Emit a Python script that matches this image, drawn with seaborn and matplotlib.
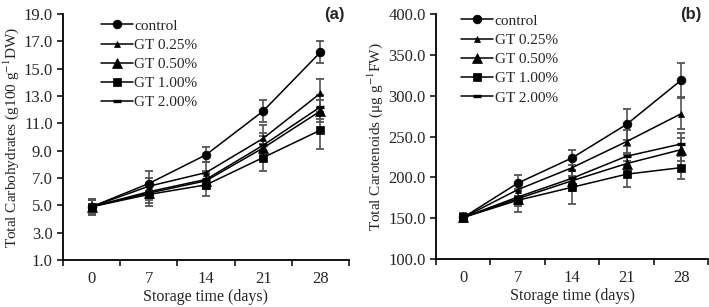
import numpy as np
import pandas as pd
import matplotlib
matplotlib.use("Agg")
import matplotlib.pyplot as plt
from matplotlib.ticker import FormatStrFormatter, FixedLocator
import seaborn as sns

# ------------------------------
# Data
# ------------------------------
days = ["0", "7", "14", "21", "28"]
treatments = ["control", "GT 0.25%", "GT 0.50%", "GT 1.00%", "GT 2.00%"]

# (a) Total carbohydrates
carb_control = [4.9, 6.6, 8.7, 11.9, 16.2]
carb_gt025 = [4.9, 6.4, 7.4, 9.9, 13.2]
carb_gt050 = [4.9, 5.9, 6.8, 9.2, 11.9]
carb_gt100 = [4.9, 5.8, 6.5, 8.5, 10.5]
carb_gt200 = [4.9, 6.0, 6.9, 9.4, 12.2]
carb_err_control = [0.6, 0.9, 0.55, 0.8, 0.8]
carb_err_gt025 = [0.5, 0.6, 0.8, 1.0, 1.05]
carb_err_gt050 = [0.5, 0.7, 0.6, 0.9, 0.8]
carb_err_gt100 = [0.6, 0.85, 0.8, 1.0, 1.35]
carb_err_gt200 = [0.5, 0.6, 0.6, 0.9, 0.9]

# (b) Total carotenoids
caro_control = [151, 193, 224, 265, 319]
caro_gt025 = [151, 185, 212, 244, 278]
caro_gt050 = [151, 174, 196, 217, 234]
caro_gt100 = [151, 172, 188, 204, 212]
caro_gt200 = [151, 176, 199, 226, 241]
caro_err_control = [5, 10, 9, 19, 21]
caro_err_gt025 = [5, 8, 10, 14, 19]
caro_err_gt050 = [5, 9, 12, 12, 14]
caro_err_gt100 = [5, 14, 20, 16, 14]
caro_err_gt200 = [5, 8, 10, 12, 14]

markers = ["o", "^", "^", "s", "_"]
msizes = [6.3, 4.2, 7, 6, 6]

carb = [carb_control, carb_gt025, carb_gt050, carb_gt100, carb_gt200]
carb_err = [carb_err_control, carb_err_gt025, carb_err_gt050, carb_err_gt100, carb_err_gt200]
caro = [caro_control, caro_gt025, caro_gt050, caro_gt100, caro_gt200]
caro_err = [caro_err_control, caro_err_gt025, caro_err_gt050, caro_err_gt100, caro_err_gt200]

# ------------------------------
# Style
# ------------------------------
sns.set_theme(style="ticks")
plt.rcParams["font.family"] = ["Liberation Serif", "DejaVu Serif"]
plt.rcParams["mathtext.fontset"] = "stix"
plt.rcParams["font.size"] = 11

fig = plt.figure(figsize=(7.09, 3.07), dpi=100)
ax_a = fig.add_axes([0.089, 0.153, 0.403, 0.801])
ax_b = fig.add_axes([0.615, 0.156, 0.384, 0.798])


def draw_panel(ax, values, errors, ylim, ystep, ylabel, tag, leg_x, leg_y, tag_x):
    pos = np.arange(len(days))
    for name, vals, errs, mk, ms in zip(treatments, values, errors, markers, msizes):
        df = pd.DataFrame({"pos": pos, "value": vals})
        ax.errorbar(pos, vals, yerr=errs, fmt="none", ecolor="#555555",
                    elinewidth=1.2, capsize=3.2, capthick=1.3, zorder=2)
        sns.lineplot(data=df, x="pos", y="value", ax=ax, color="black",
                     marker=mk, markersize=ms, markeredgecolor="black",
                     markeredgewidth=2.4 if mk == "_" else 0.5,
                     linewidth=1.1, label=name, zorder=3)

    ax.set_xlim(-0.5, len(days) - 0.5)
    ax.set_ylim(*ylim)
    ax.set_yticks(np.arange(ylim[0], ylim[1] + ystep / 2, ystep))
    ax.yaxis.set_major_formatter(FormatStrFormatter("%.1f"))
    # category ticks between points, labels centred under points
    ax.xaxis.set_major_locator(FixedLocator(np.arange(-0.5, len(days), 1.0)))
    ax.xaxis.set_minor_locator(FixedLocator(pos))
    ax.set_xticklabels([])
    ax.set_xticklabels(days, minor=True)
    ax.tick_params(axis="x", which="minor", length=0, pad=8, labelsize=12)
    ax.tick_params(axis="both", which="major", direction="out", length=4,
                   width=1.1, color="black", labelsize=12)
    for s in ["top", "right"]:
        ax.spines[s].set_visible(False)
    for s in ["left", "bottom"]:
        ax.spines[s].set_color("black")
        ax.spines[s].set_linewidth(1.3)
    ax.set_xlabel("Storage time (days)", fontsize=11.5, labelpad=1.5)
    ax.set_ylabel(ylabel, fontsize=11, labelpad=2)
    ax.legend(loc="upper left", bbox_to_anchor=(leg_x, leg_y), frameon=False,
              handlelength=2.1, handletextpad=0.1, labelspacing=0.36,
              fontsize=11, borderaxespad=0)
    ax.text(tag_x, 1.0, tag, transform=ax.transAxes, ha="right", va="center",
            fontsize=12, fontweight="bold", family="Liberation Sans")


draw_panel(ax_a, carb, carb_err, (1.0, 19.0), 2.0,
           "Total Carbohydrates (g100 g$^{-1}$DW)", "(a)", 0.11, 1.005, 0.985)
draw_panel(ax_b, caro, caro_err, (100.0, 400.0), 50.0,
           "Total Carotenoids (μg g$^{-1}$FW)", "(b)", 0.07, 1.025, 0.975)

fig.savefig("out.png", dpi=100)
